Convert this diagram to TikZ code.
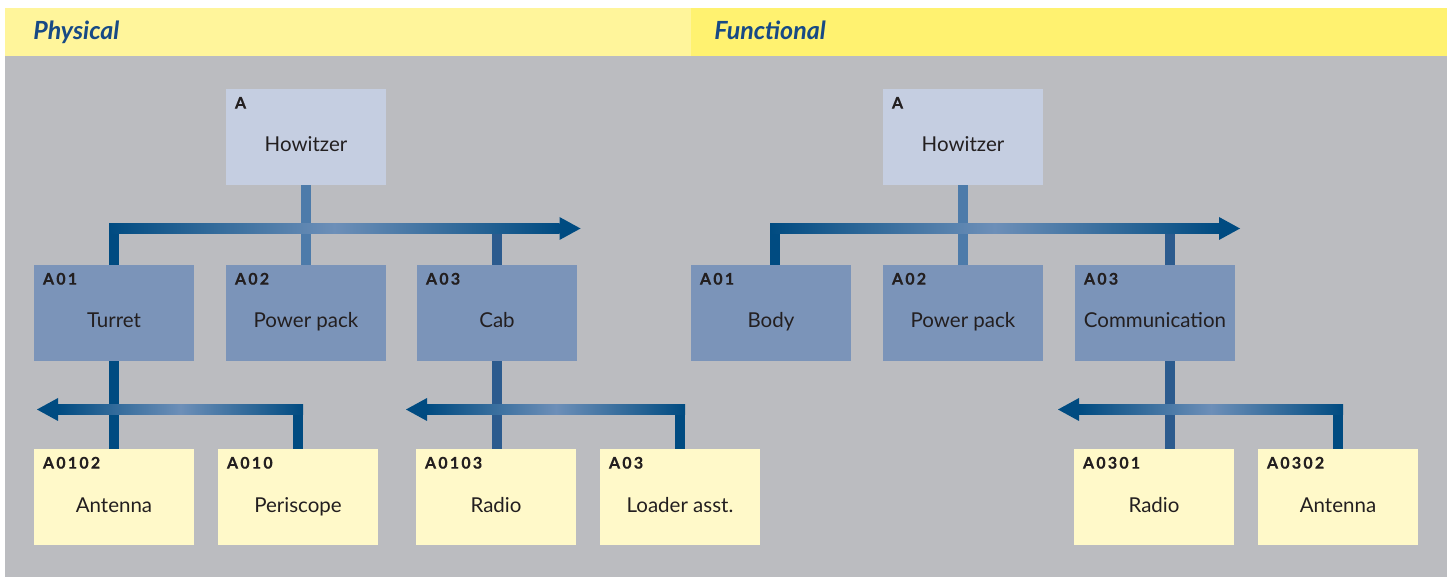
\documentclass[tikz,border=0pt]{standalone}
\usepackage{fontspec}
\setmainfont{Lato}
\newfontfamily\codefont[LetterSpace=14,FakeBold=0.6]{Lato}
\usepackage{tikz}

\definecolor{pagegray}{HTML}{BBBCC0}
\definecolor{headleft}{HTML}{FFF59B}
\definecolor{headright}{HTML}{FFF270}
\definecolor{headtext}{HTML}{174A85}
\definecolor{topfill}{HTML}{C5CEE1}
\definecolor{midfill}{HTML}{7B94B9}
\definecolor{lowfill}{HTML}{FFF9C9}
\definecolor{busdark}{HTML}{004B81}
\definecolor{buslight}{HTML}{6D8FB8}
\definecolor{stemmid}{HTML}{4D7BAA}
\definecolor{stemdeep}{HTML}{2C5B8E}
\definecolor{ink}{HTML}{231F20}

\pgfdeclarelayer{back}
\pgfdeclarelayer{wires}
\pgfsetlayers{back,wires,main}

\tikzset{
  unit/.style={rectangle, minimum width=80pt, minimum height=48pt, inner sep=0pt,
    text height=15pt, text depth=0pt, font=\fontsize{10.25}{12}\selectfont, text=ink},
  toplvl/.style={unit, fill=topfill},
  midlvl/.style={unit, fill=midfill},
  lowlvl/.style={unit, fill=lowfill},
  code/.style={anchor=north west, xshift=4.5pt, yshift=-4pt, inner sep=0pt,
    text height=5.8pt, text depth=0pt, text=ink,
    font=\codefont\bfseries\fontsize{8}{9}\selectfont},
  wire/.style={line width=5pt, line cap=rect},
  bar/.style={left color=busdark, right color=busdark, middle color=buslight},
  head/.style={fill=busdark},
  sectitle/.style={anchor=base west, inner sep=0pt, text=headtext,
    font=\fontsize{12.5}{14}\selectfont\bfseries\itshape}
}

\begin{document}
\begin{tikzpicture}[x=0.5pt, y=-0.5pt]
\useasboundingbox (0,0) rectangle (1447,577);

\begin{pgfonlayer}{back}
\fill[pagegray] (5,56) rectangle (1447,577);
\fill[headleft] (5,8) rectangle (691,56);
\fill[headright] (691,8) rectangle (1447,56);
\end{pgfonlayer}

\node[sectitle] (phys) at (33,40) {Physical};
\node[sectitle] (func) at (714,40) {Functional};

% physical tree
\node[toplvl, label={[code]north west:A}] (how) at (306,137) {Howitzer};
\node[midlvl, label={[code]north west:A01}] (tur) at (114,313) {Turret};
\node[midlvl, label={[code]north west:A02}] (pwr) at (306,313) {Power pack};
\node[midlvl, label={[code]north west:A03}] (cab) at (497,313) {Cab};
\node[lowlvl, label={[code]north west:A0102}] (ant) at (114,497) {Antenna};
\node[lowlvl, label={[code]north west:A010}] (peri) at (298,497) {Periscope};
\node[lowlvl, label={[code]north west:A0103}] (rad) at (496,497) {Radio};
\node[lowlvl, label={[code]north west:A03}] (load) at (680,497) {Loader asst.};

% functional tree
\node[toplvl, label={[code]north west:A}] (fhow) at (963,137) {Howitzer};
\node[midlvl, label={[code]north west:A01}] (body) at (771,313) {Body};
\node[midlvl, label={[code]north west:A02}] (fpwr) at (963,313) {Power pack};
\node[midlvl, label={[code]north west:A03}] (comm) at (1155,313) {Communication};
\node[lowlvl, label={[code]north west:A0301}] (frad) at (1154,497) {Radio};
\node[lowlvl, label={[code]north west:A0302}] (fant) at (1338,497) {Antenna};

\begin{pgfonlayer}{wires}
% physical, first level
\coordinate (busA) at (0,228.5);
\coordinate (tipA) at (580.5,228.5);
\coordinate (cA) at (tur.north |- busA);
\draw[wire, stemmid] (how) -- (pwr);
\draw[wire, stemdeep] (cab.north) -- (cab.north |- busA);
\draw[wire, busdark] (tur.north) -- (cA);
\shade[bar] ([shift={(-2.5pt,2.5pt)}]cA) rectangle ([shift={(-10.5pt,-2.5pt)}]tipA);
\fill[head] (tipA) -- ++(-21,-11.5) -- ++(0,23) -- cycle;

% physical, under turret
\coordinate (busB) at (0,409.5);
\coordinate (tipB) at (37,409.5);
\coordinate (cB) at (peri.north |- busB);
\draw[wire, busdark] (tur) -- (ant);
\draw[wire, busdark] (peri.north) -- (cB);
\shade[bar] ([shift={(10.5pt,2.5pt)}]tipB) rectangle ([shift={(2.5pt,-2.5pt)}]cB);
\fill[head] (tipB) -- ++(21,-11.5) -- ++(0,23) -- cycle;

% physical, under cab
\coordinate (tipC) at (406,409.5);
\coordinate (cC) at (load.north |- busB);
\draw[wire, stemdeep] (cab.south) -- (cab.south |- rad.north);
\draw[wire, busdark] (load.north) -- (cC);
\shade[bar] ([shift={(10.5pt,2.5pt)}]tipC) rectangle ([shift={(2.5pt,-2.5pt)}]cC);
\fill[head] (tipC) -- ++(21,-11.5) -- ++(0,23) -- cycle;

% functional, first level
\coordinate (tipD) at (1240,228.5);
\coordinate (bodyup) at ([xshift=2pt]body.north);
\coordinate (commup) at ([xshift=7.5pt]comm.north);
\coordinate (commdn) at ([xshift=7.5pt]comm.south);
\coordinate (cD) at (bodyup |- busA);
\draw[wire, stemmid] (fhow) -- (fpwr);
\draw[wire, stemdeep] (commup) -- (commup |- busA);
\draw[wire, busdark] (bodyup) -- (cD);
\shade[bar] ([shift={(-2.5pt,2.5pt)}]cD) rectangle ([shift={(-10.5pt,-2.5pt)}]tipD);
\fill[head] (tipD) -- ++(-21,-11.5) -- ++(0,23) -- cycle;

% functional, under communication
\coordinate (tipE) at (1058,409.5);
\coordinate (cE) at (fant.north |- busB);
\draw[wire, stemdeep] (commdn) -- (commdn |- frad.north);
\draw[wire, busdark] (fant.north) -- (cE);
\shade[bar] ([shift={(10.5pt,2.5pt)}]tipE) rectangle ([shift={(2.5pt,-2.5pt)}]cE);
\fill[head] (tipE) -- ++(21,-11.5) -- ++(0,23) -- cycle;
\end{pgfonlayer}
\end{tikzpicture}
\end{document}
